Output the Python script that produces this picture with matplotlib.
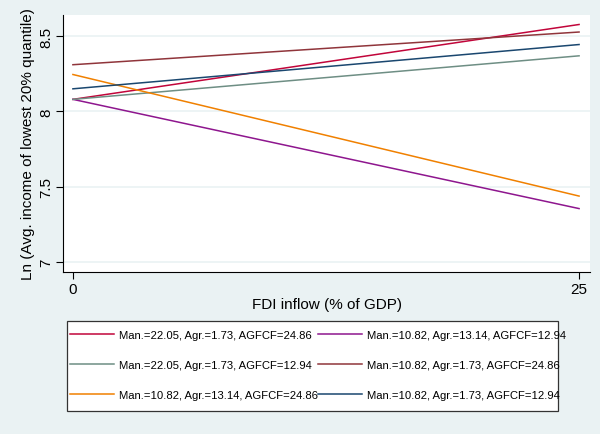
import numpy as np
import matplotlib.pyplot as plt
from matplotlib.patches import Rectangle

plt.rcParams['font.family'] = ['Liberation Sans', 'DejaVu Sans']

# Predicted Ln income of the lowest 20% quantile at FDI = 0 and FDI = 25
fdi = [0, 25]
labels = [
    'Man.=22.05, Agr.=1.73, AGFCF=24.86',
    'Man.=10.82, Agr.=13.14, AGFCF=12.94',
    'Man.=22.05, Agr.=1.73, AGFCF=12.94',
    'Man.=10.82, Agr.=1.73, AGFCF=24.86',
    'Man.=10.82, Agr.=13.14, AGFCF=24.86',
    'Man.=10.82, Agr.=1.73, AGFCF=12.94',
]
pred_start = [8.08, 8.08, 8.08, 8.31, 8.245, 8.15]
pred_end = [8.577, 7.355, 8.369, 8.527, 7.438, 8.444]
colors = ['#C1053A', '#8E168E', '#6E8E84', '#90353B', '#F08000', '#1A476F']

bg = '#EAF2F3'
fig = plt.figure(figsize=(6, 4.35), dpi=100, facecolor=bg)
ax = fig.add_axes([63 / 600, 1 - 273 / 435, 527 / 600, 257 / 435])
ax.set_facecolor('white')

handles = []
for y0, y1, c, lab in zip(pred_start, pred_end, colors, labels):
    h, = ax.plot(fdi, [y0, y1], color=c, lw=1.1, label=lab)
    handles.append(h)

ax.set_xlim(-0.49, 25.54)
ax.set_ylim(6.934, 8.64)
ax.set_xticks([0, 25])
ax.set_yticks([7, 7.5, 8, 8.5])
ax.set_yticklabels(['7', '7.5', '8', '8.5'], rotation=90, va='center')
ax.grid(axis='y', color=bg, lw=1.2)
ax.set_axisbelow(True)
for s in ['top', 'right']:
    ax.spines[s].set_visible(False)
ax.spines['left'].set_color('black')
ax.spines['bottom'].set_color('black')
ax.tick_params(labelsize=11, length=5, width=0.8, color='black', pad=2)

ax.set_xlabel('FDI inflow (% of GDP)', fontsize=11, labelpad=1)
ax.set_ylabel('Ln (Avg. income of lowest 20% quantile)', fontsize=11, labelpad=3)

# legend rows: pairs of series, filled column-wise by matplotlib
order = [0, 2, 4, 1, 3, 5]
leg = fig.legend([handles[i] for i in order], [labels[i] for i in order],
                 ncol=2, loc='center', bbox_to_anchor=(318 / 600, 1 - 366 / 435),
                 fontsize=8.1, handlelength=3.9, handletextpad=0.4,
                 columnspacing=0.05, labelspacing=1.75, frameon=False,
                 borderpad=0)

# legend box, slightly narrower than its contents
fig.add_artist(Rectangle((67 / 600, 1 - 412 / 435), 491 / 600, 90 / 435,
                         transform=fig.transFigure, facecolor='white',
                         edgecolor='#333333', lw=0.9, zorder=0))

fig.savefig('out.png', dpi=100, facecolor=bg)
